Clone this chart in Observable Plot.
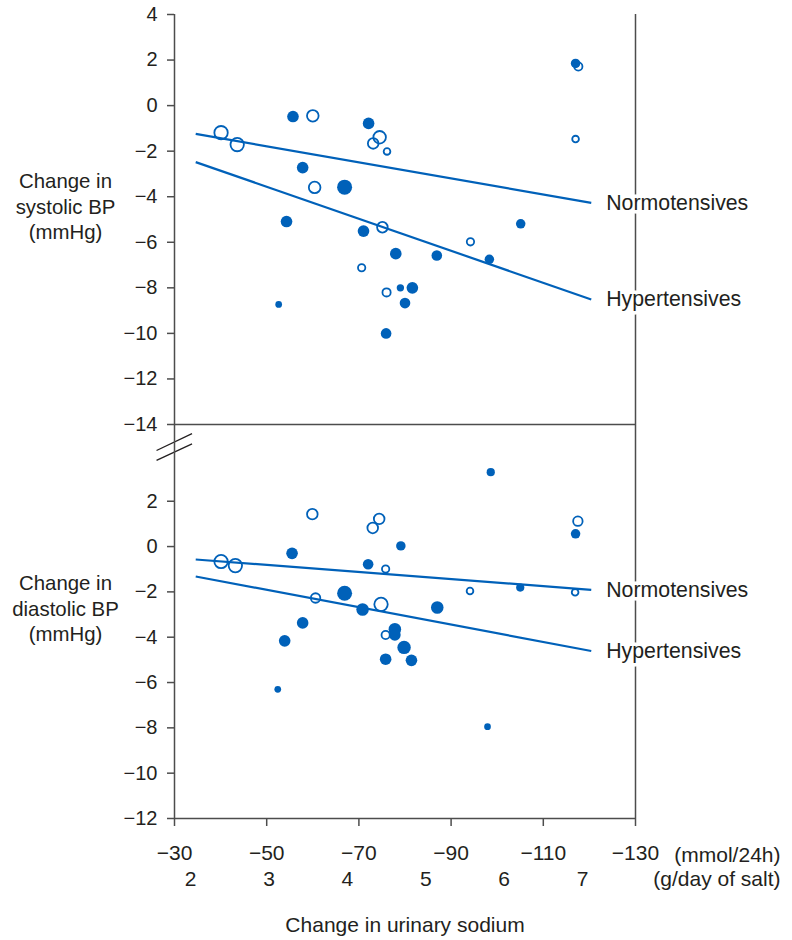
<!DOCTYPE html>
<html><head><meta charset="utf-8">
<script src="https://cdn.jsdelivr.net/npm/d3@7"></script>
<script src="https://cdn.jsdelivr.net/npm/@observablehq/plot@0.6"></script>
<style>
body{margin:0;background:#fff;}
#wrap{position:relative;width:792px;height:940px;overflow:hidden;background:#fff;}
#wrap svg{position:absolute;left:0;overflow:visible;}
</style></head><body><div id="wrap"></div>
<script>
// ---- data ----
const xTicks = [-30, -50, -70, -90, -110, -130];
const saltTicks = [
  {mmol: -33.5, g: "2"}, {mmol: -50.5, g: "3"}, {mmol: -67.5, g: "4"},
  {mmol: -84.5, g: "5"}, {mmol: -101.5, g: "6"}, {mmol: -118.5, g: "7"}
];
const sbpTicks = [4, 2, 0, -2, -4, -6, -8, -10, -12, -14];
const dbpTicks = [2, 0, -2, -4, -6, -8, -10, -12];

// [change in urinary sodium (mmol/24h), change in BP (mmHg), weight]
const sbpHyper = [
  [-55.7, -0.48, 3], [-57.8, -2.72, 3], [-66.9, -3.58, 5], [-54.3, -5.09, 3],
  [-72.1, -0.78, 3], [-71.0, -5.51, 3], [-78.0, -6.5, 3], [-105.1, -5.19, 2],
  [-98.3, -6.75, 2], [-86.9, -6.58, 2.5], [-79.0, -8.0, 1.2], [-81.6, -8.0, 3],
  [-80.0, -8.67, 2.5], [-52.6, -8.73, 1], [-75.9, -10.0, 2.5], [-117.0, 1.85, 2]
];
const sbpNormo = [
  [-40.1, -1.19, 4], [-43.6, -1.71, 4], [-60.0, -0.45, 3], [-60.4, -3.59, 3],
  [-74.5, -1.39, 3.5], [-73.1, -1.66, 2.5], [-76.1, -2.01, 1], [-75.1, -5.34, 2.5],
  [-70.6, -7.12, 1.2], [-117.0, -1.47, 1], [-94.2, -5.98, 1.2], [-76.0, -8.2, 1.5],
  [-117.6, 1.72, 1.5]
];
const dbpHyper = [
  [-55.5, -0.30, 3], [-79.1, 0.03, 2], [-72.0, -0.78, 2.5], [-98.6, 3.28, 1.5],
  [-117.0, 0.56, 2], [-105.0, -1.81, 1.5], [-66.9, -2.06, 5], [-70.8, -2.78, 3.5],
  [-87.0, -2.69, 3.5], [-57.8, -3.37, 3], [-53.9, -4.16, 3], [-77.8, -3.65, 3.5],
  [-77.8, -3.90, 3], [-79.8, -4.45, 4], [-75.8, -4.97, 3], [-81.4, -5.02, 3],
  [-52.4, -6.30, 1], [-97.9, -7.95, 1]
];
const dbpNormo = [
  [-40.1, -0.66, 4], [-43.2, -0.84, 4], [-59.9, 1.43, 2.5], [-74.4, 1.22, 2.5],
  [-73.0, 0.82, 2.5], [-75.8, -0.99, 1.2], [-117.5, 1.12, 2], [-94.1, -1.96, 1],
  [-116.9, -2.02, 1], [-60.6, -2.27, 2], [-74.8, -2.55, 4], [-75.8, -3.90, 1.5]
];
const sbpFits = [
  {group: "Normotensives", x1: -34.6, y1: -1.24, x2: -120.4, y2: -4.27},
  {group: "Hypertensives", x1: -34.6, y1: -2.48, x2: -120.4, y2: -8.51}
];
const dbpFits = [
  {group: "Normotensives", x1: -34.6, y1: -0.57, x2: -120.4, y2: -1.91},
  {group: "Hypertensives", x1: -34.6, y1: -1.32, x2: -120.4, y2: -4.61}
];
const breakMarks = [
  {x1: -26.1, y1: 4.24, x2: -33.8, y2: 4.98},
  {x1: -26.1, y1: 3.80, x2: -33.8, y2: 4.53}
];

// ---- drawing ----
const blue = "#0061b9", ink = "#231f20", axisCol = "#4d4d4d";
const font = "'Liberation Sans', Arial, Helvetica, sans-serif";
const toObj = arr => arr.map(([x, y, w]) => ({x, y, w}));
const style = {fontFamily: font, fontSize: "20px", color: ink, background: "transparent", overflow: "visible"};
const rScale = {type: "sqrt", domain: [0, 5], range: [0, 7.5]};

function panelMarks(hyper, normo, fits, ticks, title) {
  return [
    Plot.axisY(ticks, {tickSize: 7, tickPadding: 10, stroke: axisCol, strokeWidth: 1.5, fill: ink, fontSize: 20, label: null}),
    Plot.ruleX([-30, -130], {stroke: axisCol, strokeWidth: 1.5}),
    Plot.link(fits, {x1: "x1", y1: "y1", x2: "x2", y2: "y2", stroke: blue, strokeWidth: 2.2}),
    Plot.dot(toObj(hyper), {x: "x", y: "y", r: "w", fill: blue}),
    Plot.dot(toObj(normo), {x: "x", y: "y", r: "w", fill: "none", stroke: blue, strokeWidth: 1.8}),
    Plot.text(fits, {x: "x2", y: "y2", text: "group", textAnchor: "start", dx: 15, fill: ink,
      stroke: "white", strokeWidth: 7, paintOrder: "stroke", fontSize: 21.3}),
    Plot.text([title], {frameAnchor: "left", dx: -109, dy: -14, textAnchor: "middle",
      lineHeight: 1.25, fontSize: 20.4, fill: ink})
  ];
}

const topChart = Plot.plot({
  width: 792, height: 430,
  marginLeft: 174, marginRight: 157, marginTop: 14, marginBottom: 6,
  x: {domain: [-30, -130], axis: null},
  y: {domain: [-14, 4]},
  r: rScale,
  style,
  marks: [
    Plot.ruleY([-14], {stroke: axisCol, strokeWidth: 1.5}),
    ...panelMarks(sbpHyper, sbpNormo, sbpFits, sbpTicks, "Change in\nsystolic BP\n(mmHg)")
  ]
});

const bottomChart = Plot.plot({
  width: 792, height: 526,
  marginLeft: 174, marginRight: 157, marginTop: 10, marginBottom: 122,
  x: {domain: [-30, -130]},
  y: {domain: [-12, 5.386]},
  r: rScale,
  style,
  marks: [
    Plot.ruleY([-12], {stroke: axisCol, strokeWidth: 1.5}),
    Plot.axisX(xTicks, {tickSize: 8, tickPadding: 19, stroke: axisCol, strokeWidth: 1.5, fill: ink, fontSize: 21, label: null}),
    Plot.link(breakMarks, {x1: "x1", y1: "y1", x2: "x2", y2: "y2", stroke: ink, strokeWidth: 1.3}),
    ...panelMarks(dbpHyper, dbpNormo, dbpFits, dbpTicks, "Change in\ndiastolic BP\n(mmHg)"),
    Plot.text(saltTicks, {x: "mmol", text: "g", frameAnchor: "bottom", lineAnchor: "middle", dy: 61, fontSize: 21, fill: ink}),
    Plot.text(["(mmol/24h)"], {frameAnchor: "bottom-right", lineAnchor: "middle", dx: 145, dy: 37, textAnchor: "end", fontSize: 21, fill: ink}),
    Plot.text(["(g/day of salt)"], {frameAnchor: "bottom-right", lineAnchor: "middle", dx: 145, dy: 61, textAnchor: "end", fontSize: 21, fill: ink}),
    Plot.text(["Change in urinary sodium"], {frameAnchor: "bottom", lineAnchor: "middle", dy: 107, fontSize: 21, fill: ink})
  ]
});

const wrap = document.getElementById("wrap");
topChart.style.top = "0px";
bottomChart.style.top = "414px";
wrap.appendChild(topChart);
wrap.appendChild(bottomChart);
</script>
</body></html>
